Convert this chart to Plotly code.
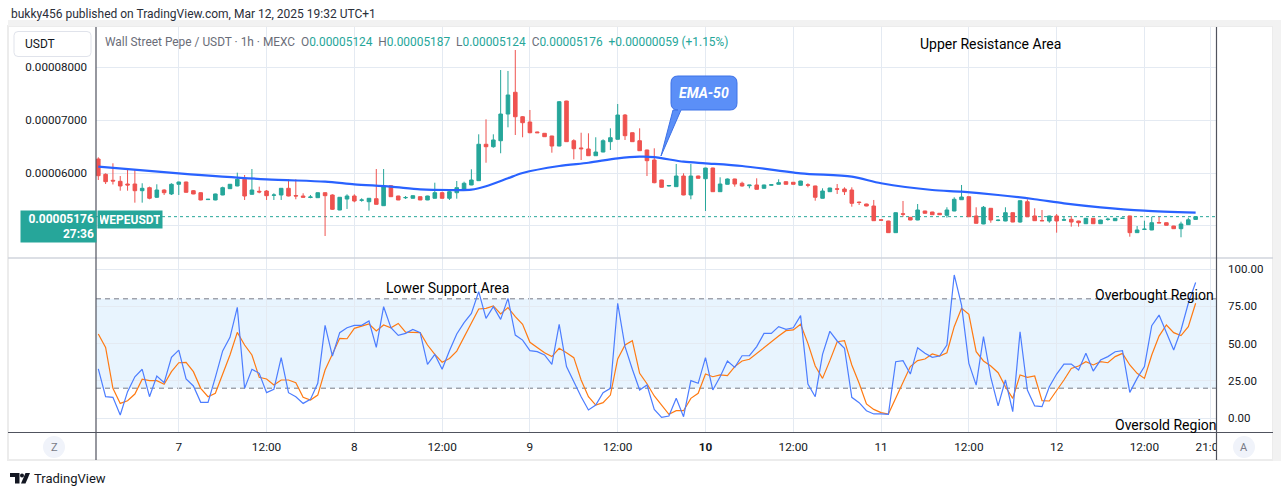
import numpy as np
import pandas as pd
import plotly.graph_objects as go

# ---------------- data (prices in units of 1e-5 USDT) ----------------
open_e5 = [6.264,5.975,5.862,5.843,5.792,5.792,5.666,5.723,5.542,5.679,5.604,5.787,5.830,5.666,5.628,5.498,5.491,5.585,5.704,5.755,
           5.881,5.598,5.655,5.660,5.579,5.585,5.711,5.575,5.566,5.538,5.534,5.628,5.585,5.302,5.509,5.566,5.485,5.458,5.515,5.383,
           5.760,5.566,5.532,5.523,5.553,5.491,5.523,5.628,5.523,5.628,5.698,5.774,5.855,6.542,6.496,6.609,7.113,7.523,7.062,6.962,
           6.774,6.749,6.698,6.509,7.358,6.609,6.472,6.453,6.326,6.396,6.591,6.636,7.094,6.760,6.609,6.434,6.245,5.868,5.755,5.742,
           5.943,5.585,5.943,5.892,6.094,5.647,5.787,5.887,5.806,5.760,5.774,5.711,5.770,5.787,5.836,5.825,5.768,5.777,5.755,5.523,
           5.647,5.702,5.698,5.679,5.451,5.415,5.377,5.117,5.094,4.874,5.230,5.164,5.113,5.283,5.264,5.240,5.202,5.283,5.496,5.553,
           5.189,5.038,5.334,5.104,5.094,5.251,5.075,5.458,5.189,5.104,5.094,5.189,5.110,5.126,5.094,5.043,5.145,5.043,5.122,5.100,
           5.143,5.189,4.874,4.935,4.925,5.066,5.062,5.000,4.949,5.025,5.124]
high_e5 = [6.296,5.994,6.183,5.943,6.057,6.070,5.806,5.742,5.787,5.692,5.806,5.836,5.836,5.679,5.635,5.510,5.610,5.742,5.792,6.006,
           5.962,6.075,5.742,5.679,5.617,5.715,5.881,5.881,5.617,5.585,5.632,5.632,5.598,5.545,5.598,5.598,5.523,5.527,6.075,6.075,
           5.765,5.570,5.566,5.575,5.557,5.570,5.817,5.647,5.660,5.849,5.836,6.070,6.730,7.013,6.730,7.943,7.925,8.321,7.075,7.189,
           6.780,6.755,6.702,7.358,7.362,6.636,6.760,6.749,6.674,6.636,6.843,7.302,7.113,6.765,6.843,6.440,6.466,5.872,5.774,6.170,
           5.994,6.170,5.950,6.098,6.100,5.919,5.897,5.892,5.836,5.774,5.900,5.780,5.790,5.881,5.840,5.830,5.853,5.806,5.760,5.711,
           5.721,5.792,5.730,5.730,5.460,5.420,5.491,5.121,5.098,5.255,5.472,5.168,5.415,5.287,5.268,5.244,5.353,5.542,5.774,5.557,
           5.353,5.377,5.338,5.120,5.353,5.255,5.481,5.504,5.334,5.302,5.193,5.226,5.175,5.189,5.098,5.149,5.149,5.117,5.157,5.149,
           5.150,5.193,5.000,5.100,5.175,5.175,5.066,5.004,5.081,5.157,5.187]
low_e5 = [5.868,5.792,5.783,5.666,5.666,5.440,5.440,5.504,5.528,5.585,5.585,5.585,5.630,5.600,5.485,5.490,5.485,5.580,5.700,5.750,
          5.491,5.595,5.617,5.491,5.491,5.491,5.560,5.504,5.540,5.523,5.530,4.811,5.302,5.298,5.321,5.447,5.458,5.289,5.405,5.380,
          5.550,5.488,5.509,5.520,5.488,5.488,5.520,5.520,5.491,5.515,5.695,5.770,5.850,6.194,6.477,6.372,6.862,6.717,6.674,6.749,
          6.755,6.680,6.383,6.505,6.587,6.258,6.245,6.321,6.322,6.392,6.434,6.632,6.623,6.587,6.417,5.943,5.806,5.726,5.745,5.738,
          5.580,5.504,5.895,5.283,5.643,5.643,5.783,5.742,5.742,5.711,5.692,5.705,5.760,5.783,5.785,5.783,5.764,5.730,5.477,5.520,
          5.643,5.604,5.585,5.364,5.396,5.373,5.096,5.106,4.870,4.870,5.175,5.109,5.109,5.236,5.209,5.209,5.157,5.279,5.492,5.171,
          5.047,5.034,5.062,5.090,5.090,5.071,5.062,5.171,5.096,5.094,5.062,4.874,5.094,4.987,4.987,5.039,5.039,5.039,5.100,5.096,
          5.140,4.798,4.870,4.930,4.921,5.054,5.009,4.945,4.787,5.021,5.124]
close_e5 = [5.949,5.836,5.849,5.755,5.774,5.666,5.711,5.523,5.679,5.628,5.787,5.830,5.636,5.604,5.491,5.504,5.604,5.723,5.787,5.881,
            5.566,5.679,5.642,5.572,5.585,5.711,5.566,5.566,5.542,5.547,5.628,5.572,5.315,5.542,5.566,5.472,5.491,5.523,5.409,5.755,
            5.553,5.491,5.538,5.572,5.491,5.566,5.628,5.523,5.647,5.723,5.806,5.868,6.542,6.496,6.623,7.113,7.472,7.062,6.949,6.760,
            6.760,6.685,6.509,7.345,6.591,6.458,6.458,6.326,6.396,6.609,6.666,7.094,6.704,6.591,6.421,6.232,5.817,5.730,5.764,5.943,
            5.585,5.943,5.900,6.094,5.647,5.792,5.887,5.792,5.755,5.772,5.692,5.774,5.778,5.817,5.787,5.787,5.849,5.770,5.542,5.660,
            5.717,5.694,5.647,5.428,5.443,5.377,5.100,5.110,4.874,5.251,5.222,5.113,5.302,5.240,5.213,5.213,5.302,5.504,5.547,5.175,
            5.051,5.353,5.113,5.110,5.251,5.075,5.477,5.175,5.100,5.098,5.189,5.094,5.117,5.075,5.062,5.145,5.043,5.113,5.128,5.145,
            5.147,4.874,4.925,4.940,5.062,5.058,5.013,4.949,5.038,5.117,5.176]

# EMA-50 read at selected bars (bar index, value x1e-5)
ema_bar = [0, 11, 23, 31, 35, 40, 44, 48, 51, 53, 56, 58, 63, 67, 71, 74, 76, 80, 83, 88, 96, 103, 107, 114, 118, 123, 128, 132, 137, 143, 150]
ema_e5 = [6.119, 5.994, 5.881, 5.836, 5.787, 5.742, 5.692, 5.679, 5.685, 5.750, 5.900, 6.000, 6.132, 6.194, 6.277, 6.308, 6.300,
          6.213, 6.183, 6.132, 5.994, 5.930, 5.806, 5.679, 5.647, 5.585, 5.504, 5.428, 5.353, 5.289, 5.251]

# Oscillator (blue fast line, orange signal line)
osc_fast = [33,14.3,13.9,2.0,17.7,27.7,32.7,14.3,28.2,23.7,40.7,45.6,26.2,21.5,10.5,10.5,27.3,45.0,54.1,74.3,
            19.9,32.7,30.0,17.0,19.2,40.5,17.0,14.3,9.8,12.5,23.3,62.2,41.6,57.3,60.6,62.2,62.2,65.1,47.4,74.7,
            60.6,55.5,56.8,59.5,57.3,36.0,42.7,32.7,45.2,56.4,64.0,70.2,84.8,66.9,74.7,66.2,80.3,55.7,52.3,45.2,
            44.5,42.3,36.0,62.9,34.5,24.4,14.3,5.4,8.7,17.0,19.9,77.0,47.9,32.7,18.8,22.1,5.8,0.4,1.3,13.2,
            0.9,25.1,23.3,40.5,18.8,27.7,38.3,34.0,41.8,41.8,47.9,56.8,56.8,61.3,59.5,60.6,68.7,22.8,14.3,42.7,
            58.2,51.7,46.8,13.9,10.3,4.9,2.7,2.7,2.5,37.8,38.5,29.5,47.2,43.4,40.7,41.6,49.0,96.0,75.8,36.7,
            22.1,54.6,27.3,8.1,25.5,4.3,57.9,18.8,8.1,7.6,21.0,29.5,36.2,36.2,32.2,43.4,31.5,38.9,41.2,44.5,
            45.2,17.2,26.6,34.5,62.0,69.1,57.9,45.6,59.1,77.0,91.0]
osc_signal = [56.4,47.4,19.9,9.8,11.6,16.1,26.0,25.1,25.1,22.6,31.1,37.1,37.4,31.1,19.9,14.3,16.6,28.9,42.3,57.5,
              49.0,42.3,27.3,26.2,22.1,25.5,25.5,23.7,13.9,12.1,15.4,32.2,42.3,53.5,53.2,60.2,61.7,63.1,58.4,62.4,
              60.6,63.5,57.7,57.7,57.3,49.0,42.7,37.4,40.0,44.9,54.1,63.5,73.2,73.6,75.2,69.8,74.1,68.0,62.9,50.8,
              47.4,43.8,41.2,46.8,43.8,40.5,25.5,14.3,8.7,10.3,15.4,39.6,49.0,51.9,30.0,23.0,14.8,8.7,2.5,4.9,
              4.9,13.2,16.6,29.5,27.7,28.9,28.4,34.5,38.3,39.4,43.4,47.4,51.2,55.0,58.6,59.1,62.9,50.1,34.9,26.6,
              38.5,51.2,51.9,35.6,23.3,9.4,5.8,3.6,2.7,13.2,24.4,34.5,38.5,39.6,43.0,41.6,43.8,61.3,73.6,69.6,
              44.5,38.3,34.9,30.4,21.0,13.2,28.9,27.3,28.2,11.6,11.4,18.1,25.5,33.3,34.9,37.8,35.6,37.8,37.1,41.2,
              43.4,35.6,30.0,26.6,42.3,55.0,62.4,57.3,55.3,61.3,77.0]

last_price = 0.00005176
time_ticks = ["2025-03-07 00:00", "2025-03-07 12:00", "2025-03-08 00:00", "2025-03-08 12:00", "2025-03-09 00:00",
              "2025-03-09 12:00", "2025-03-10 00:00", "2025-03-10 12:00", "2025-03-11 00:00", "2025-03-11 12:00",
              "2025-03-12 00:00", "2025-03-12 12:00", "2025-03-12 21:00"]
time_labels = ["7", "12:00", "8", "12:00", "9", "12:00", "<b>10</b>", "12:00", "11", "12:00", "12", "12:00", "21:00"]
price_ticks = [0.00005, 0.00006, 0.00007, 0.00008]
price_labels = ["", "0.00006000", "0.00007000", "0.00008000"]
osc_ticks = [0, 25, 50, 75, 100]
osc_labels = ["0.00", "25.00", "50.00", "75.00", "100.00"]

# ---------------- build ----------------
t = pd.date_range("2025-03-06 13:00", periods=len(open_e5), freq="h")
o = np.array(open_e5) * 1e-5
h = np.array(high_e5) * 1e-5
l = np.array(low_e5) * 1e-5
c = np.array(close_e5) * 1e-5
ema_t = t[ema_bar]
ema = np.array(ema_e5) * 1e-5

W, H = 1281, 496
def PX(x): return x / W
def PY(y): return 1 - y / H

GREEN, RED = "#26a69a", "#ef5350"
GRID = "#e4eaf2"
TXT = "#131722"
FONT = "Roboto"

x_range = [pd.Timestamp("2025-03-06 12:41:10"), pd.Timestamp("2025-03-12 21:47:00")]

fig = go.Figure()
fig.add_trace(go.Candlestick(
    x=t, open=o, high=h, low=l, close=c, xaxis="x", yaxis="y",
    increasing=dict(line=dict(color=GREEN, width=1), fillcolor=GREEN),
    decreasing=dict(line=dict(color=RED, width=1), fillcolor=RED),
    whiskerwidth=0, showlegend=False, hoverinfo="skip"))
fig.add_trace(go.Scatter(x=ema_t, y=ema, mode="lines", line=dict(color="#2962ff", width=2.2, shape="spline", smoothing=0.8),
                         xaxis="x", yaxis="y", showlegend=False, hoverinfo="skip"))
fig.add_trace(go.Scatter(x=t, y=osc_signal, mode="lines", line=dict(color="#ff7a12", width=1.2),
                         xaxis="x2", yaxis="y2", showlegend=False, hoverinfo="skip"))
fig.add_trace(go.Scatter(x=t, y=osc_fast, mode="lines", line=dict(color="#4c7dff", width=1.2),
                         xaxis="x2", yaxis="y2", showlegend=False, hoverinfo="skip"))

dom_x = [PX(96), PX(1216)]
fig.update_layout(
    width=W, height=H, autosize=False, margin=dict(l=0, r=0, t=0, b=0, pad=0),
    paper_bgcolor="white", plot_bgcolor="white",
    font=dict(family=FONT, color=TXT, size=12),
    xaxis=dict(domain=dom_x, anchor="y", range=x_range, type="date", rangeslider=dict(visible=False),
               tickvals=time_ticks, showticklabels=False, showgrid=True, gridcolor=GRID, gridwidth=1,
               zeroline=False, showline=False, fixedrange=True, automargin=False),
    yaxis=dict(domain=[PY(258), PY(27)], anchor="x", side="left", range=[4.396e-5, 8.755e-5],
               tickvals=price_ticks, ticktext=price_labels, showgrid=True, gridcolor=GRID,
               zeroline=False, showline=False, ticks="", ticklabelstandoff=8, automargin=False,
               tickfont=dict(size=11.6, color=TXT, family=FONT)),
    xaxis2=dict(domain=dom_x, anchor="y2", range=x_range, type="date", matches="x",
                tickvals=time_ticks, ticktext=time_labels, showgrid=True, gridcolor=GRID,
                zeroline=False, showline=False, ticks="", ticklabelstandoff=6, automargin=False,
                tickfont=dict(size=11.8, color=TXT, family=FONT)),
    yaxis2=dict(domain=[PY(432), PY(258)], anchor="x2", side="right", range=[-9.4, 107.4],
                tickvals=osc_ticks, ticktext=osc_labels, showgrid=True, gridcolor=GRID,
                zeroline=False, showline=False, ticks="", ticklabelstandoff=11, automargin=False,
                tickfont=dict(size=11.5, color=TXT, family=FONT)),
)

shapes = []
# oscillator band and levels
shapes.append(dict(type="rect", xref="paper", yref="y2", x0=PX(96), x1=PX(1216), y0=20, y1=80,
                   fillcolor="rgba(33,150,243,0.10)", line=dict(width=0), layer="below"))
for lv in (80, 50, 20):
    shapes.append(dict(type="line", xref="paper", yref="y2", x0=PX(96), x1=PX(1216), y0=lv, y1=lv,
                       line=dict(color="#787b86", width=1, dash="5px,4px"), layer="between"))
# last price dotted line
shapes.append(dict(type="line", xref="paper", yref="y", x0=PX(96), x1=PX(1216), y0=last_price, y1=last_price,
                   line=dict(color=GREEN, width=1, dash="dot"), layer="between"))
# frame
shapes.append(dict(type="rect", xref="paper", yref="paper", x0=PX(8), x1=PX(1273), y0=PY(460), y1=PY(26),
                   line=dict(color="#ececec", width=2), layer="above"))
shapes.append(dict(type="rect", xref="paper", yref="paper", x0=PX(1273), x1=PX(1281), y0=PY(461), y1=PY(20),
                   fillcolor="#f2f2f2", line=dict(width=0), layer="above"))
shapes.append(dict(type="rect", xref="paper", yref="paper", x0=PX(8), x1=PX(1281), y0=PY(26), y1=PY(20),
                   fillcolor="#f2f2f2", line=dict(width=0), layer="above"))
# mask clipped time label
shapes.append(dict(type="rect", xref="paper", yref="paper", x0=PX(1217), x1=PX(1272), y0=PY(459), y1=PY(433),
                   fillcolor="white", line=dict(width=0), layer="above"))
# separators
shapes.append(dict(type="line", xref="paper", yref="paper", x0=PX(8), x1=PX(1273), y0=PY(258), y1=PY(258),
                   line=dict(color="#d1d4dc", width=1.5), layer="above"))
shapes.append(dict(type="line", xref="paper", yref="paper", x0=PX(8), x1=PX(1273), y0=PY(432.5), y1=PY(432.5),
                   line=dict(color="#50535e", width=1.2), layer="above"))
for xv in (96, 1216.5):
    shapes.append(dict(type="line", xref="paper", yref="paper", x0=PX(xv), x1=PX(xv), y0=PY(27), y1=PY(460),
                       line=dict(color="#50535e", width=1.2), layer="above"))
# USDT box (rounded)
def rrect(x0, y0, x1, y1, r):
    return (f"M {PX(x0+r)},{PY(y0)} L {PX(x1-r)},{PY(y0)} Q {PX(x1)},{PY(y0)} {PX(x1)},{PY(y0+r)} "
            f"L {PX(x1)},{PY(y1-r)} Q {PX(x1)},{PY(y1)} {PX(x1-r)},{PY(y1)} L {PX(x0+r)},{PY(y1)} "
            f"Q {PX(x0)},{PY(y1)} {PX(x0)},{PY(y1-r)} L {PX(x0)},{PY(y0+r)} Q {PX(x0)},{PY(y0)} {PX(x0+r)},{PY(y0)} Z")
shapes.append(dict(type="path", xref="paper", yref="paper", path=rrect(14, 31.5, 91, 56.5, 4),
                   fillcolor="white", line=dict(color="#e0e3eb", width=1), layer="above"))
# EMA-50 callout
bx0, by0, bx1, by1, r = 671, 76, 737, 110, 7
callout = (f"M {PX(bx0+r)},{PY(by0)} L {PX(bx1-r)},{PY(by0)} Q {PX(bx1)},{PY(by0)} {PX(bx1)},{PY(by0+r)} "
           f"L {PX(bx1)},{PY(by1-r)} Q {PX(bx1)},{PY(by1)} {PX(bx1-r)},{PY(by1)} L {PX(681)},{PY(by1)} "
           f"L {PX(661)},{PY(156)} L {PX(673)},{PY(by1)} L {PX(bx0+r)},{PY(by1)} "
           f"Q {PX(bx0)},{PY(by1)} {PX(bx0)},{PY(by1-r)} L {PX(bx0)},{PY(by0+r)} Q {PX(bx0)},{PY(by0)} {PX(bx0+r)},{PY(by0)} Z")
shapes.append(dict(type="path", xref="paper", yref="paper", path=callout,
                   fillcolor="#5b8ff7", line=dict(color="#3d72e8", width=1), layer="above"))
# Z / A buttons
for cx in (54, 1244):
    shapes.append(dict(type="circle", xref="paper", yref="paper", x0=PX(cx-11), x1=PX(cx+11), y0=PY(458), y1=PY(436),
                       fillcolor="#f0f3fa", line=dict(width=0), layer="above"))
# TradingView logo
shapes.append(dict(type="path", xref="paper", yref="paper",
                   path=f"M {PX(10)},{PY(473)} L {PX(19.5)},{PY(473)} L {PX(19.5)},{PY(483.5)} L {PX(15)},{PY(483.5)} "
                        f"L {PX(15)},{PY(477)} L {PX(10)},{PY(477)} Z",
                   fillcolor="#131722", line=dict(width=0), layer="above"))
shapes.append(dict(type="circle", xref="paper", yref="paper", x0=PX(20), x1=PX(24), y0=PY(477.5), y1=PY(473.5),
                   fillcolor="#131722", line=dict(width=0), layer="above"))
shapes.append(dict(type="path", xref="paper", yref="paper",
                   path=f"M {PX(25.5)},{PY(473)} L {PX(30)},{PY(473)} L {PX(25.5)},{PY(483.5)} L {PX(21)},{PY(483.5)} Z",
                   fillcolor="#131722", line=dict(width=0), layer="above"))
fig.update_layout(shapes=shapes)

ann = []
def A(x, y, text, size=12, color=TXT, xanchor="left", **kw):
    ann.append(dict(xref="paper", yref="paper", x=PX(x), y=PY(y), text=text, showarrow=False,
                    xanchor=xanchor, yanchor="middle", font=dict(size=size, color=color, family=FONT), **kw))

A(9, 14, "bukky456 published on TradingView.com, Mar 12, 2025 19:32 UTC+1", size=12, color="#2a2e39")
A(23, 44, "USDT", size=12, color=TXT)
legend = ("Wall Street Pepe / USDT · 1h · MEXC  "
          f"O<span style='color:{GREEN}'>0.00005124</span>  H<span style='color:{GREEN}'>0.00005187</span>  "
          f"L<span style='color:{GREEN}'>0.00005124</span>  C<span style='color:{GREEN}'>0.00005176</span>  "
          f"<span style='color:{GREEN}'>+0.00000059 (+1.15%)</span>")
A(103, 42, legend, size=11.9, color="#6a6d78")
A(990, 44, "Upper Resistance Area", size=14, color="#000000", xanchor="center")
A(447, 288, "Lower Support Area", size=14, color="#000000", xanchor="center")
A(1154, 295, "Overbought Region", size=14, color="#000000", xanchor="center")
A(1166, 425, "Oversold Region", size=14, color="#000000", xanchor="center")
A(704, 93, "<b><i>EMA-50</i></b>", size=14, color="white", xanchor="center")
A(54, 447, "Z", size=11, color="#787b86", xanchor="center")
A(1244, 447, "A", size=11, color="#787b86", xanchor="center")
A(32, 478, "TradingView", size=13, color=TXT)
fig.update_layout(annotations=ann)

# price tags
fig.add_annotation(xref="paper", yref="paper", x=PX(20), y=PY(210), xanchor="left", yanchor="top",
                   text="<b>0.00005176</b><br><b>27:36</b>", align="right", showarrow=False,
                   width=71, height=27, borderpad=2, bgcolor=GREEN, font=dict(size=12, color="white", family=FONT))
fig.add_annotation(xref="paper", yref="paper", x=PX(97), y=PY(210.5), xanchor="left", yanchor="top",
                   text="<b>WEPEUSDT</b>", showarrow=False, width=60, height=13, borderpad=2,
                   bgcolor=GREEN, font=dict(size=12, color="white", family=FONT))

fig.write_html("out.html", config={"responsive": False, "displayModeBar": False},
               post_script="document.body.style.margin='0';document.body.style.overflow='hidden';"
                           "document.documentElement.style.overflow='hidden';")
